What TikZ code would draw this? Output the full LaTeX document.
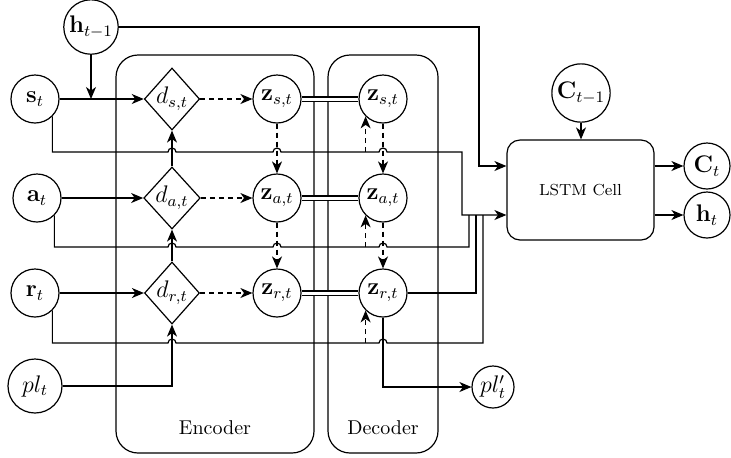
\documentclass[tikz,border=0pt]{standalone}
\usepackage{amsmath}
\usetikzlibrary{arrows.meta,shapes.geometric}
\newcommand{\hopover}[1]{-- ([xshift=-2pt]#1) arc[start angle=180,end angle=0,radius=2pt]}

\begin{document}
\begin{tikzpicture}[x=0.5pt,y=-0.5pt,line width=0.6pt]
        \tikzset{var/.style={circle,draw,minimum size=24pt,inner sep=1pt,font=\large},
            dnode/.style={diamond,draw,minimum width=27.5pt,minimum height=31pt,inner sep=0pt,font=\large},
            block/.style={draw,rounded corners=11pt,minimum width=#1,minimum height=199pt},
            arr/.style={-{Stealth[length=6pt,width=5pt,inset=1.8pt]}},
            dasharr/.style={arr,dash pattern=on 2.5pt off 2pt},
            dbl/.style={double,double distance=1.5pt}}
        \useasboundingbox (0,0) rectangle (731,457);
        \node[block=99pt] (encbox) at (215,254) {};
        \node[block=55pt] (decbox) at (383,254) {};
        \node (enclbl) at (215,428) {Encoder};
        \node (declbl) at (383,428) {Decoder};
        \node[var] (ht1) at (91,27) {$\mathbf{h}_{t-1}$};
        \node[var] (sin) at (35,99) {$\mathbf{s}_t$};
        \node[var] (ain) at (37,198) {$\mathbf{a}_t$};
        \node[var] (rin) at (35,293) {$\mathbf{r}_t$};
        \node[var,minimum size=27pt] (plin) at (35,386) {$pl_t$};
        \node[dnode] (ds) at (172,99) {$d_{s,t}$};
        \node[dnode] (da) at (172,198) {$d_{a,t}$};
        \node[dnode] (dr) at (172,293) {$d_{r,t}$};
        \node[var] (zs) at (277,99) {$\mathbf{z}_{s,t}$};
        \node[var] (za) at (277,198) {$\mathbf{z}_{a,t}$};
        \node[var] (zr) at (277,293) {$\mathbf{z}_{r,t}$};
        \node[var] (zsd) at (383,99) {$\mathbf{z}_{s,t}$};
        \node[var] (zad) at (383,198) {$\mathbf{z}_{a,t}$};
        \node[var] (zrd) at (383,293) {$\mathbf{z}_{r,t}$};
        \node[draw,rounded corners=6.5pt,minimum width=73.5pt,minimum height=50pt,font=\footnotesize] (lstm) at (580.5,190) {LSTM Cell};
        \node[var] (ct1) at (581,93) {$\mathbf{C}_{t-1}$};
        \node[var,minimum size=23pt] (ct) at (707,166) {$\mathbf{C}_t$};
        \node[var,minimum size=23pt] (htt) at (707,215) {$\mathbf{h}_t$};
        \node[var,minimum size=21pt,inner sep=0.5pt] (plout) at (493,387) {$pl'_t$};
        \coordinate (sby) at (0,152);
        \coordinate (aby) at (0,247);
        \coordinate (rby) at (0,343);
        \coordinate (jH) at (479,27);
        \coordinate (jS) at (462,152);
        \coordinate (jA) at (469,247);
        \coordinate (jR) at (476,293);
        \coordinate (jP) at (483,343);
        \coordinate (lin) at ([yshift=-12.5pt]lstm.west);
        \coordinate (lin2) at ([yshift=12pt]lstm.west);
        \draw[arr] (ht1) -- (ht1 |- sin);
        \draw[arr] (sin) -- (ds);
        \draw[arr] (ain) -- (da);
        \draw[arr] (rin) -- (dr);
        \draw[arr] (plin) -| (dr);
        \draw[arr] (dr) -- (da);
        \draw[arr] (da) -- (ds);
        \draw[dasharr] (ds) -- (zs);
        \draw[dasharr] (da) -- (za);
        \draw[dasharr] (dr) -- (zr);
        \draw[dasharr] (zs) -- (za);
        \draw[dasharr] (za) -- (zr);
        \draw[dasharr] (zsd) -- (zad);
        \draw[dasharr] (zad) -- (zrd);
        \draw[dbl] (zs) -- (zsd);
        \draw[dbl] (za) -- (zad);
        \draw[dbl] (zr) -- (zrd);
        \draw[dasharr] (zsd.225 |- sby) -- (zsd.225);
        \draw[dasharr] (zad.225 |- aby) -- (zad.225);
        \draw[dasharr] (zrd.225 |- rby) -- (zrd.225);
        \draw[arr] (sin.-45) -- (sin.-45 |- sby) \hopover{ds |- sby} \hopover{zs |- sby} \hopover{zsd |- sby} -- (jS) |- (lin);
        \draw (ain.-45) -- (ain.-45 |- aby) \hopover{da |- aby} \hopover{za |- aby} \hopover{zad |- aby} -- (jA) -- (jA |- lin);
        \draw (rin.-45) -- (rin.-45 |- rby) \hopover{dr |- rby} \hopover{zrd |- rby} -- (jP) -- (jP |- lin);
        \draw (zrd) -- (jR) -- (jR |- lin);
        \draw[arr] (zrd) |- (plout);
        \draw[arr] (ht1) -- (jH) |- (lin2);
        \draw[arr] (ct1) -- (ct1 |- lstm.north);
        \draw[arr] (lstm.east |- ct) -- (ct);
        \draw[arr] (lstm.east |- htt) -- (htt);
    \end{tikzpicture}
\end{document}
